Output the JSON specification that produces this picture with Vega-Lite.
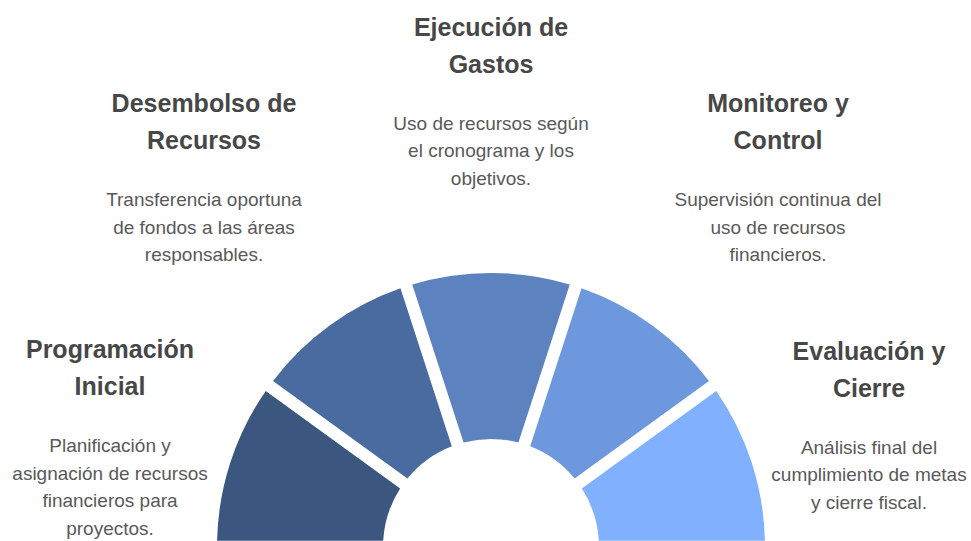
{
  "$schema": "https://vega.github.io/schema/vega-lite/v6.json",
  "width": 971,
  "height": 541,
  "autosize": {"type": "fit", "contains": "padding"},
  "padding": 0,
  "background": "white",
  "config": {"view": {"stroke": null}},
  "data": {
    "values": [
      {"step": 1, "name": "Programación Inicial", "title": "Programación\nInicial", "desc": "Planificación y\nasignación de recursos\nfinancieros para\nproyectos.", "share": 1, "lx": 110, "ly": 360},
      {"step": 2, "name": "Desembolso de Recursos", "title": "Desembolso de\nRecursos", "desc": "Transferencia oportuna\nde fondos a las áreas\nresponsables.", "share": 1, "lx": 204, "ly": 113},
      {"step": 3, "name": "Ejecución de Gastos", "title": "Ejecución de\nGastos", "desc": "Uso de recursos según\nel cronograma y los\nobjetivos.", "share": 1, "lx": 491, "ly": 36},
      {"step": 4, "name": "Monitoreo y Control", "title": "Monitoreo y\nControl", "desc": "Supervisión continua del\nuso de recursos\nfinancieros.", "share": 1, "lx": 778, "ly": 113},
      {"step": 5, "name": "Evaluación y Cierre", "title": "Evaluación y\nCierre", "desc": "Análisis final del\ncumplimiento de metas\ny cierre fiscal.", "share": 1, "lx": 869, "ly": 362}
    ]
  },
  "layer": [
    {
      "mark": {"type": "arc", "innerRadius": 108, "outerRadius": 274, "padAngle": 0.042},
      "encoding": {
        "theta": {"field": "share", "type": "quantitative", "stack": true, "scale": {"range": [-1.5708, 1.5708]}},
        "order": {"field": "step", "type": "quantitative", "sort": "ascending"},
        "color": {
          "field": "name",
          "type": "nominal",
          "scale": {
            "domain": ["Programación Inicial", "Desembolso de Recursos", "Ejecución de Gastos", "Monitoreo y Control", "Evaluación y Cierre"],
            "range": ["#3b5780", "#4a6ba0", "#5c83bf", "#6d98dd", "#80b0fe"]
          },
          "legend": null
        },
        "x": {"datum": 491, "type": "quantitative", "scale": {"domain": [0, 971], "nice": false, "zero": false}, "axis": null},
        "y": {"datum": 550, "type": "quantitative", "scale": {"domain": [0, 541], "nice": false, "zero": false, "reverse": true}, "axis": null}
      }
    },
    {
      "mark": {"type": "text", "font": "Liberation Sans", "fontSize": 25, "fontWeight": "bold", "lineHeight": 37, "lineBreak": "\n", "align": "center", "baseline": "alphabetic", "color": "#474747"},
      "encoding": {
        "x": {"field": "lx", "type": "quantitative", "axis": null},
        "y": {"field": "ly", "type": "quantitative", "axis": null},
        "text": {"field": "title", "type": "nominal"}
      }
    },
    {
      "mark": {"type": "text", "font": "Liberation Sans", "fontSize": 19, "lineHeight": 27.5, "lineBreak": "\n", "align": "center", "baseline": "alphabetic", "color": "#595959", "dy": 94},
      "encoding": {
        "x": {"field": "lx", "type": "quantitative", "axis": null},
        "y": {"field": "ly", "type": "quantitative", "axis": null},
        "text": {"field": "desc", "type": "nominal"}
      }
    }
  ]
}
